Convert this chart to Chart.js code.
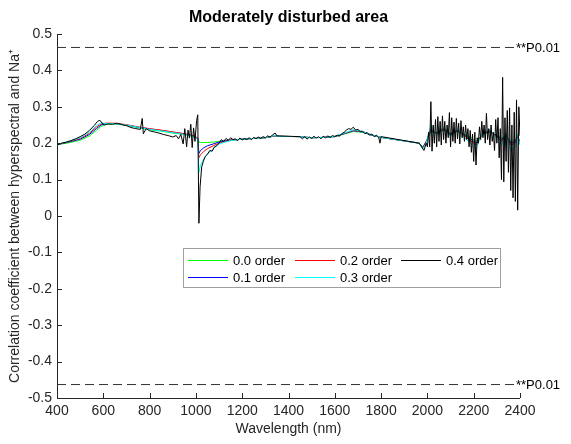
<!DOCTYPE html>
<html>
<head>
<meta charset="utf-8">
<script src="https://cdn.jsdelivr.net/npm/chart.js@4.4.0/dist/chart.umd.min.js"></script>
<style>
  html, body { margin: 0; padding: 0; background: #fff; }
  #wrap { width: 571px; height: 444px; }
</style>
</head>
<body>
<div id="wrap"><canvas id="chart" width="571" height="444"></canvas></div>
<script>
// axis ticks
const xTicks = [400, 600, 800, 1000, 1200, 1400, 1600, 1800, 2000, 2200, 2400];
const yTicks = [-0.5, -0.4, -0.3, -0.2, -0.1, 0, 0.1, 0.2, 0.3, 0.4, 0.5];
const pLevel = 0.463;
const pLabel = "**P0.01";
const seriesNames = ["0.0 order", "0.1 order", "0.2 order", "0.3 order", "0.4 order"];

// wavelengths used by the 0.0 - 0.3 order curves
const wlColor = [
  400, 450, 500, 540, 570, 590, 610, 650, 700, 750,
  800, 850, 900, 950, 990, 1008, 1013, 1020, 1035, 1050,
  1075, 1100, 1150, 1200, 1250, 1300, 1340, 1350, 1450, 1500,
  1550, 1600, 1640, 1680, 1720, 1760, 1800, 1810, 1965, 1980,
  1995, 2015, 2040, 2070, 2100, 2130, 2160, 2190, 2210, 2240,
  2270, 2300, 2320, 2340, 2360, 2380, 2390, 2400
];
const order00 = [
  0.196, 0.201, 0.208, 0.220, 0.235, 0.246, 0.252, 0.253, 0.249, 0.243,
  0.237, 0.233, 0.228, 0.224, 0.218, 0.212, 0.203, 0.202, 0.202, 0.202,
  0.203, 0.205, 0.209, 0.211, 0.213, 0.215, 0.219, 0.219, 0.218, 0.215,
  0.216, 0.218, 0.225, 0.232, 0.230, 0.222, 0.216, 0.215, 0.200, 0.190,
  0.205, 0.230, 0.230, 0.235, 0.228, 0.232, 0.225, 0.215, 0.205, 0.225,
  0.230, 0.222, 0.215, 0.220, 0.205, 0.210, 0.218, 0.205
];
const order01 = [
  0.196, 0.203, 0.211, 0.224, 0.240, 0.250, 0.254, 0.254, 0.250, 0.244,
  0.239, 0.235, 0.230, 0.226, 0.220, 0.214, 0.172, 0.180, 0.188, 0.193,
  0.198, 0.203, 0.209, 0.211, 0.213, 0.215, 0.220, 0.219, 0.218, 0.215,
  0.216, 0.218, 0.226, 0.234, 0.231, 0.222, 0.216, 0.215, 0.200, 0.188,
  0.205, 0.235, 0.228, 0.238, 0.225, 0.234, 0.222, 0.210, 0.200, 0.226,
  0.232, 0.220, 0.210, 0.222, 0.200, 0.205, 0.220, 0.200
];
const order02 = [
  0.196, 0.204, 0.213, 0.227, 0.244, 0.253, 0.255, 0.255, 0.251, 0.245,
  0.240, 0.236, 0.231, 0.226, 0.220, 0.214, 0.160, 0.168, 0.178, 0.185,
  0.193, 0.200, 0.208, 0.211, 0.213, 0.215, 0.220, 0.219, 0.218, 0.215,
  0.216, 0.219, 0.227, 0.235, 0.232, 0.223, 0.216, 0.215, 0.200, 0.186,
  0.203, 0.240, 0.226, 0.240, 0.222, 0.236, 0.220, 0.205, 0.195, 0.228,
  0.234, 0.218, 0.205, 0.224, 0.195, 0.200, 0.222, 0.198
];
const order03 = [
  0.196, 0.205, 0.215, 0.230, 0.248, 0.256, 0.254, 0.254, 0.250, 0.244,
  0.238, 0.234, 0.229, 0.224, 0.218, 0.212, 0.120, 0.140, 0.158, 0.170,
  0.185, 0.198, 0.207, 0.211, 0.213, 0.215, 0.221, 0.219, 0.218, 0.215,
  0.216, 0.219, 0.228, 0.237, 0.232, 0.223, 0.216, 0.215, 0.200, 0.184,
  0.200, 0.250, 0.222, 0.245, 0.218, 0.240, 0.215, 0.198, 0.185, 0.232,
  0.238, 0.212, 0.195, 0.230, 0.180, 0.190, 0.226, 0.195
];

// wavelengths used by the 0.4 order curve (noisier, more points)
const wlBlack = [
  400, 420, 440, 460, 480, 500, 520, 540, 560, 575,
  585, 595, 605, 620, 640, 660, 680, 700, 720, 740,
  760, 768, 773, 785, 800, 820, 840, 860, 880, 900,
  915, 925, 935, 945, 952, 960, 966, 972, 978, 984,
  990, 996, 1003, 1008, 1013, 1018, 1025, 1032, 1040, 1050,
  1060, 1070, 1080, 1090, 1100, 1110, 1120, 1130, 1140, 1150,
  1160, 1170, 1180, 1190, 1200, 1210, 1220, 1230, 1240, 1250,
  1260, 1270, 1280, 1290, 1300, 1310, 1320, 1330, 1342, 1350,
  1450, 1460, 1470, 1480, 1490, 1500, 1510, 1520, 1530, 1540,
  1550, 1560, 1570, 1580, 1590, 1600, 1610, 1620, 1630, 1640,
  1650, 1660, 1670, 1680, 1690, 1700, 1710, 1720, 1730, 1740,
  1750, 1760, 1770, 1780, 1790, 1795, 1800, 1810, 1965, 1975,
  1985, 1995, 2000, 2005, 2010, 2015, 2020, 2025, 2030, 2035,
  2040, 2045, 2050, 2055, 2060, 2065, 2070, 2075, 2080, 2085,
  2090, 2095, 2100, 2105, 2110, 2115, 2120, 2125, 2130, 2135,
  2140, 2145, 2150, 2155, 2160, 2165, 2170, 2175, 2180, 2185,
  2190, 2195, 2200, 2205, 2210, 2215, 2220, 2225, 2230, 2235,
  2240, 2245, 2250, 2255, 2260, 2265, 2270, 2275, 2280, 2285,
  2290, 2295, 2300, 2305, 2310, 2315, 2320, 2325, 2330, 2335,
  2340, 2345, 2350, 2355, 2360, 2365, 2370, 2375, 2380, 2385,
  2390, 2395, 2400
];
const order04 = [
  0.195, 0.200, 0.203, 0.207, 0.212, 0.218, 0.225, 0.235, 0.248, 0.260,
  0.263, 0.255, 0.250, 0.253, 0.252, 0.255, 0.251, 0.248, 0.243, 0.240,
  0.238, 0.268, 0.226, 0.240, 0.234, 0.231, 0.228, 0.224, 0.221, 0.217,
  0.221, 0.212, 0.224, 0.198, 0.240, 0.190, 0.236, 0.214, 0.252, 0.188,
  0.242, 0.205, 0.262, 0.278, -0.020, 0.080, 0.135, 0.150, 0.163, 0.170,
  0.180, 0.178, 0.190, 0.193, 0.200, 0.210, 0.205, 0.213, 0.208, 0.215,
  0.210, 0.212, 0.207, 0.214, 0.209, 0.213, 0.210, 0.215, 0.210, 0.216,
  0.212, 0.217, 0.213, 0.218, 0.215, 0.220, 0.217, 0.222, 0.228, 0.220,
  0.218, 0.212, 0.218, 0.211, 0.217, 0.213, 0.219, 0.214, 0.218, 0.212,
  0.219, 0.215, 0.220, 0.216, 0.221, 0.218, 0.222, 0.219, 0.226, 0.230,
  0.236, 0.240, 0.238, 0.244, 0.236, 0.238, 0.232, 0.233, 0.226, 0.229,
  0.222, 0.225, 0.218, 0.222, 0.215, 0.200, 0.218, 0.217, 0.200, 0.190,
  0.180, 0.200, 0.190, 0.230, 0.190, 0.314, 0.178, 0.250, 0.200, 0.265,
  0.190, 0.273, 0.205, 0.260, 0.195, 0.275, 0.210, 0.260, 0.200, 0.250,
  0.215, 0.284, 0.190, 0.270, 0.205, 0.258, 0.200, 0.268, 0.212, 0.255,
  0.198, 0.262, 0.215, 0.245, 0.205, 0.250, 0.210, 0.240, 0.190, 0.235,
  0.175, 0.225, 0.150, 0.230, 0.140, 0.215, 0.200, 0.245, 0.210, 0.260,
  0.215, 0.250, 0.200, 0.282, 0.210, 0.240, 0.195, 0.250, 0.205, 0.230,
  0.180, 0.265, 0.200, 0.270, 0.160, 0.240, 0.100, 0.381, 0.094, 0.270,
  0.150, 0.290, 0.120, 0.297, 0.070, 0.250, 0.050, 0.285, 0.040, 0.319,
  0.016, 0.300, 0.220
];

function pairs(xs, ys) {
  return xs.map((x, i) => ({ x: x, y: ys[i] }));
}

const FONT = "'Liberation Sans', Arial, sans-serif";
const AXIS = "#262626";
const TITLE = "Moderately disturbed area";

function line(label, xs, ys, color, order) {
  return {
    label: label,
    data: pairs(xs, ys),
    borderColor: color,
    borderWidth: 1,
    pointRadius: 0,
    tension: 0,
    fill: false,
    order: order
  };
}

function pLine(y) {
  return {
    label: pLabel,
    data: [{ x: xTicks[0], y: y }, { x: xTicks[xTicks.length - 1], y: y }],
    borderColor: "#333333",
    borderWidth: 1,
    borderDash: [9, 5],
    pointRadius: 0,
    order: 0
  };
}

// axes with inward ticks, title over the plot, P0.01 labels and the inside legend
const matlabStyle = {
  id: "matlabStyle",
  afterDatasetsDraw(chart) {
    const ctx = chart.ctx;
    const a = chart.chartArea;
    const xs = chart.scales.x, ys = chart.scales.y;
    ctx.save();
    ctx.strokeStyle = AXIS;
    ctx.lineWidth = 1;
    ctx.beginPath();
    ctx.moveTo(a.left + 0.5, a.top);
    ctx.lineTo(a.left + 0.5, a.bottom + 0.5);
    ctx.lineTo(a.right, a.bottom + 0.5);
    xTicks.forEach(v => {
      const px = Math.round(xs.getPixelForValue(v)) + 0.5;
      ctx.moveTo(px, a.bottom);
      ctx.lineTo(px, a.bottom - 5);
    });
    yTicks.forEach(v => {
      const py = Math.round(ys.getPixelForValue(v)) + 0.5;
      ctx.moveTo(a.left, py);
      ctx.lineTo(a.left + 5, py);
    });
    ctx.stroke();

    // title
    ctx.fillStyle = "#000";
    ctx.font = "bold 16px " + FONT;
    ctx.textAlign = "center";
    ctx.textBaseline = "middle";
    ctx.fillText(TITLE, (a.left + a.right) / 2, 18);

    // significance labels
    ctx.font = "13px " + FONT;
    ctx.textAlign = "left";
    [pLevel, -pLevel].forEach(v => {
      ctx.fillText(pLabel, a.right - 4, ys.getPixelForValue(v) + 1);
    });

    // legend box
    const bx = 183, by = 248, bw = 317, bh = 39;
    ctx.fillStyle = "#fff";
    ctx.fillRect(bx, by, bw, bh);
    ctx.strokeStyle = "#a0a0a0";
    ctx.strokeRect(bx + 0.5, by + 0.5, bw, bh);
    const cols = [188, 295, 401];
    const rows = [260, 277];
    const slots = [[0, 0], [0, 1], [1, 0], [1, 1], [2, 0]];
    ctx.fillStyle = "#000";
    seriesNames.forEach((name, i) => {
      const ds = chart.data.datasets.find(d => d.label === name);
      const [c, r] = slots[i];
      const x0 = cols[c], y0 = rows[r] + 0.5;
      ctx.strokeStyle = ds.borderColor;
      ctx.beginPath();
      ctx.moveTo(x0, y0);
      ctx.lineTo(x0 + 40, y0);
      ctx.stroke();
      ctx.fillText(name, x0 + 45, y0 + 1);
    });
    ctx.restore();
  }
};

const ctx = document.getElementById("chart").getContext("2d");
new Chart(ctx, {
  type: "line",
  data: {
    datasets: [
      line(seriesNames[0], wlColor, order00, "#00ff00", 5),
      line(seriesNames[1], wlColor, order01, "#0000ff", 4),
      line(seriesNames[2], wlColor, order02, "#ff0000", 3),
      line(seriesNames[3], wlColor, order03, "#00ffff", 2),
      line(seriesNames[4], wlBlack, order04, "#000000", 1),
      pLine(pLevel),
      pLine(-pLevel)
    ]
  },
  options: {
    responsive: false,
    animation: false,
    layout: { padding: { top: 34, right: 51, bottom: 0, left: 0 } },
    plugins: {
      legend: { display: false },
      tooltip: { enabled: false },
      title: { display: false }
    },
    scales: {
      x: {
        type: "linear",
        min: 400,
        max: 2400,
        afterBuildTicks: s => { s.ticks = xTicks.map(v => ({ value: v })); },
        afterFit: s => { s.height = 46; },
        grid: { display: false, drawTicks: false },
        border: { display: false },
        ticks: {
          color: AXIS,
          padding: 5,
          maxRotation: 0,
          autoSkip: false,
          font: { family: FONT, size: 14 },
          callback: v => String(v)
        },
        title: {
          display: true,
          text: "Wavelength (nm)",
          color: AXIS,
          padding: { top: 4, bottom: 6 },
          font: { family: FONT, size: 14 }
        }
      },
      y: {
        type: "linear",
        min: -0.5,
        max: 0.5,
        afterBuildTicks: s => { s.ticks = yTicks.map(v => ({ value: v })); },
        afterFit: s => { s.width = 57; },
        grid: { display: false, drawTicks: false },
        border: { display: false },
        ticks: {
          color: AXIS,
          padding: 5,
          autoSkip: false,
          font: { family: FONT, size: 14 },
          callback: v => String(Math.round(v * 10) / 10)
        },
        title: {
          display: true,
          text: "Correlation coefficient between hyperspectral and Na\u207A",
          color: AXIS,
          padding: { top: 7, bottom: 4 },
          font: { family: FONT, size: 14 }
        }
      }
    }
  },
  plugins: [matlabStyle]
});
</script>
</body>
</html>
